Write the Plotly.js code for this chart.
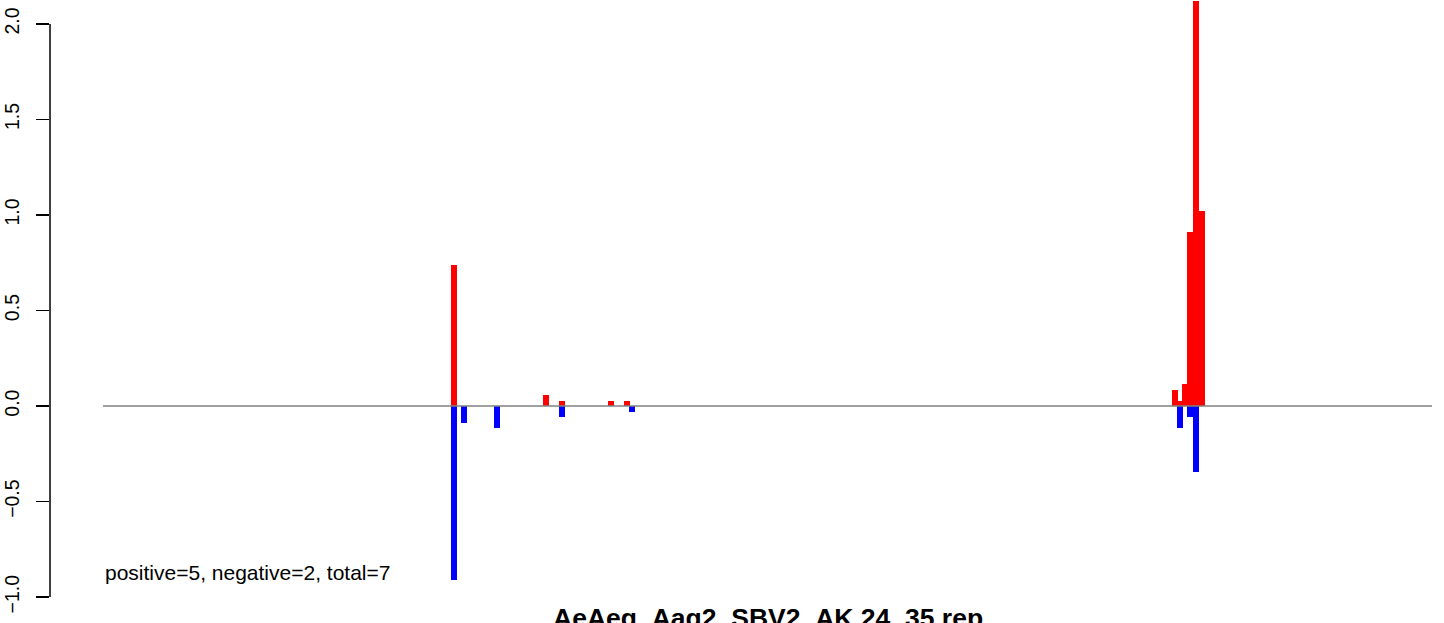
<!DOCTYPE html>
<html>
<head>
<meta charset="utf-8">
<script src="https://cdn.plot.ly/plotly-3.0.1.min.js"></script>
<style>html,body{margin:0;padding:0;background:#fff;}</style>
</head>
<body>
<div id="chart" style="width:1444px;height:623px;"></div>
<script>
// Sequence length (x units) and positions / values
const seqLength = 1329;
const posPositions = [351, 443, 459, 508, 524, 1072, 1077, 1082, 1087, 1093, 1099];
const posValues    = [0.738, 0.058, 0.026, 0.026, 0.026, 0.084, 0.026, 0.115, 0.911, 2.4, 1.02];
const negPositions = [351, 361, 394, 459, 529, 1077, 1087, 1093];
const negValues    = [-0.911, -0.089, -0.115, -0.058, -0.031, -0.115, -0.058, -0.346];
const yTickVals  = [-1, -0.5, 0, 0.5, 1, 1.5, 2];
const yTickText  = ['\u22121.0', '\u22120.5', '0.0', '0.5', '1.0', '1.5', '2.0'];
const chartTitle = 'AeAeg_Aag2_SBV2_AK.24_35.rep';
const summaryText = 'positive=5, negative=2, total=7';

const barWidth = 6;
const font = 'Liberation Sans, Arial, Helvetica, sans-serif';

const traces = [
  {
    type: 'bar', x: posPositions, y: posValues,
    width: posPositions.map(() => barWidth),
    marker: {color: '#ff0000', line: {width: 0}},
    hoverinfo: 'skip', showlegend: false
  },
  {
    type: 'bar', x: negPositions, y: negValues,
    width: negPositions.map(() => barWidth),
    marker: {color: '#0000ff', line: {width: 0}},
    hoverinfo: 'skip', showlegend: false
  }
];

const layout = {
  width: 1444, height: 623,
  margin: {l: 50, r: 12, t: 1, b: 3, pad: 0},
  paper_bgcolor: '#ffffff', plot_bgcolor: '#ffffff',
  barmode: 'overlay', bargap: 0,
  showlegend: false,
  font: {family: font, color: '#000000'},
  xaxis: {
    range: [-53, seqLength], visible: false, fixedrange: true
  },
  yaxis: {
    range: [-1.12, 2.12],
    tickvals: yTickVals, ticktext: yTickText,
    tickangle: -90,
    ticks: 'outside', ticklen: 13, tickwidth: 1.5, tickcolor: '#000000',
    ticklabelstandoff: 9,
    tickfont: {family: font, size: 19.5, color: '#000000'},
    showgrid: false, zeroline: false, showline: false, fixedrange: true
  },
  shapes: [
    {type: 'line', xref: 'paper', yref: 'y', x0: 0, x1: 0, y0: -1, y1: 2,
     line: {color: '#000000', width: 1.5}},
    {type: 'line', xref: 'x', yref: 'y', x0: 0, x1: seqLength, y0: 0, y1: 0,
     line: {color: '#808080', width: 1.5}, layer: 'above'}
  ],
  annotations: [
    {text: summaryText, xref: 'x', yref: 'y', x: 0, y: -0.872,
     xanchor: 'left', yanchor: 'middle', showarrow: false,
     font: {family: font, size: 21, color: '#000000'}},
    {text: '<b>' + chartTitle + '</b>', xref: 'x', yref: 'y', x: seqLength / 2, y: -1.11,
     xanchor: 'center', yanchor: 'middle', showarrow: false,
     font: {family: font, size: 26.5, color: '#000000'}}
  ]
};

Plotly.newPlot('chart', traces, layout, {displayModeBar: false, staticPlot: true});
</script>
</body>
</html>
